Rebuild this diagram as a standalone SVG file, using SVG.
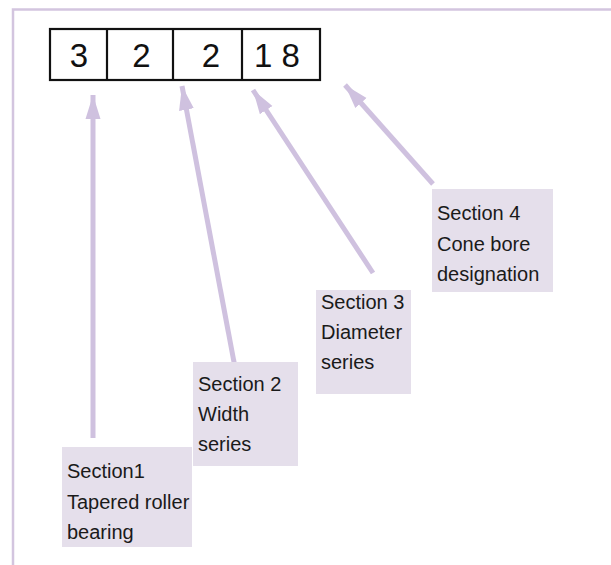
<svg xmlns="http://www.w3.org/2000/svg" width="611" height="565" viewBox="0 0 611 565">
  <defs>
    <style>
      .frame { fill: none; stroke: #d3c5df; stroke-width: 2.5; }
      .cell { fill: #ffffff; stroke: #111111; stroke-width: 2.2; }
      .digit { font-family: "Liberation Sans", Arial, sans-serif; font-size: 33px; fill: #111111; text-anchor: middle; }
      .label-box { fill: #e5dfeb; }
      .label { font-family: "Liberation Sans", Arial, sans-serif; font-size: 20px; fill: #1a1a1a; }
      .pointer { stroke: #cfc1df; stroke-width: 5; fill: none; marker-end: url(#head); }
    </style>
    <marker id="head" markerUnits="userSpaceOnUse" markerWidth="26" markerHeight="18" viewBox="0 -9 26 18" refX="24" refY="0" orient="auto">
      <path d="M0,-7.5 L24,0 L0,7.5 Z" fill="#cfc1df"/>
    </marker>
  </defs>

  <rect width="611" height="565" fill="#ffffff"/>

  <!-- outer frame: top and left edges only -->
  <path class="frame" d="M13,565 L13,9.5 L611,9.5"/>

  <!-- designation number cells -->
  <g id="number">
    <rect class="cell" x="50" y="29" width="270" height="51"/>
    <line class="cell" x1="107" y1="29" x2="107" y2="80"/>
    <line class="cell" x1="173" y1="29" x2="173" y2="81"/>
    <line class="cell" x1="242" y1="29" x2="242" y2="80"/>
    <text class="digit" x="79" y="67">3</text>
    <text class="digit" x="141.5" y="67">2</text>
    <text class="digit" x="211" y="67">2</text>
    <text class="digit" x="277" y="67">1 8</text>
  </g>

  <!-- pointers from sections to digits -->
  <g id="connectors">
    <line class="pointer" x1="93" y1="438" x2="93" y2="95"/>
    <line class="pointer" x1="237" y1="378" x2="182" y2="86"/>
    <line class="pointer" x1="373" y1="273" x2="253" y2="90"/>
    <line class="pointer" x1="433" y1="184" x2="345" y2="85"/>
  </g>

  <g id="section1">
    <rect class="label-box" x="62" y="447" width="130" height="100"/>
    <text class="label" x="67" y="478">Section1</text>
    <text class="label" x="67" y="509">Tapered roller</text>
    <text class="label" x="67" y="539">bearing</text>
  </g>

  <g id="section2">
    <rect class="label-box" x="193" y="362" width="105" height="104"/>
    <text class="label" x="198" y="391">Section 2</text>
    <text class="label" x="198" y="421">Width</text>
    <text class="label" x="198" y="451">series</text>
  </g>

  <g id="section3">
    <rect class="label-box" x="316" y="290" width="95" height="104"/>
    <text class="label" x="321" y="309">Section 3</text>
    <text class="label" x="321" y="339">Diameter</text>
    <text class="label" x="321" y="369">series</text>
  </g>

  <g id="section4">
    <rect class="label-box" x="432" y="189" width="121" height="103"/>
    <text class="label" x="437" y="220">Section 4</text>
    <text class="label" x="437" y="251">Cone bore</text>
    <text class="label" x="437" y="281">designation</text>
  </g>
</svg>
